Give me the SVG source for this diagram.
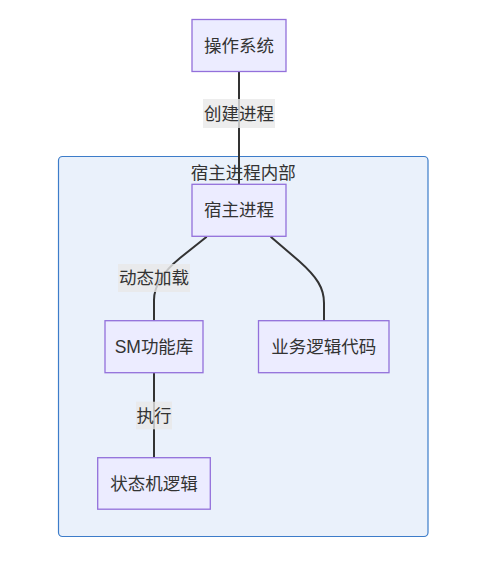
<svg xmlns="http://www.w3.org/2000/svg" width="497" height="565" viewBox="0 0 497 565">
<style>
.node rect{fill:#ECECFF;stroke:#9370DB;stroke-width:1.3}
text{font-family:"Liberation Sans","Noto Sans CJK SC",sans-serif;font-size:17.5px;fill:#333;text-anchor:middle;dominant-baseline:central}
.edge{fill:none;stroke:#333;stroke-width:2}
.lbl{fill:#e8e8e8;fill-opacity:0.8}
</style>
<rect width="497" height="565" fill="#ffffff"/>
<g id="cluster-host">
<rect x="58.5" y="156.5" width="369.5" height="380" rx="4" fill="#EAF1FB" stroke="#3D7CC9" stroke-width="1.2"/>
<text x="243.2" y="172.5">宿主进程内部</text>
</g>
<g id="connectors">
<path class="edge" d="M239,71.3 L239,184"/>
<path class="edge" d="M206.7,236.7 L180,258 C163,272 154,285 154,300 L154,321"/>
<path class="edge" d="M270.7,236.7 L299,261 C317,277 324,288 324,303 L324,321"/>
<path class="edge" d="M154,372.7 L154,457.7"/>
<g id="edge-label-1"><rect class="lbl" x="203" y="99" width="72" height="29"/><text x="239" y="113.5">创建进程</text></g>
<g id="edge-label-2"><rect class="lbl" x="118" y="264" width="72" height="28"/><text x="154" y="278">动态加载</text></g>
<g id="edge-label-3"><rect class="lbl" x="136" y="401.7" width="36" height="27.6"/><text x="154" y="415.5">执行</text></g>
</g>
<g id="node-os" class="node"><rect x="192" y="19.5" width="94" height="52"/><text x="239" y="45.5">操作系统</text></g>
<g id="node-host" class="node"><rect x="192" y="184.3" width="94" height="52"/><text x="239" y="210.3">宿主进程</text></g>
<g id="node-sm" class="node"><rect x="105" y="320.7" width="98" height="52"/><text x="154" y="346.7">SM功能库</text></g>
<g id="node-biz" class="node"><rect x="258.5" y="320.7" width="130.5" height="52"/><text x="323.7" y="346.7">业务逻辑代码</text></g>
<g id="node-state" class="node"><rect x="97.7" y="457.7" width="112.6" height="51.5"/><text x="154" y="483.5">状态机逻辑</text></g>
</svg>
